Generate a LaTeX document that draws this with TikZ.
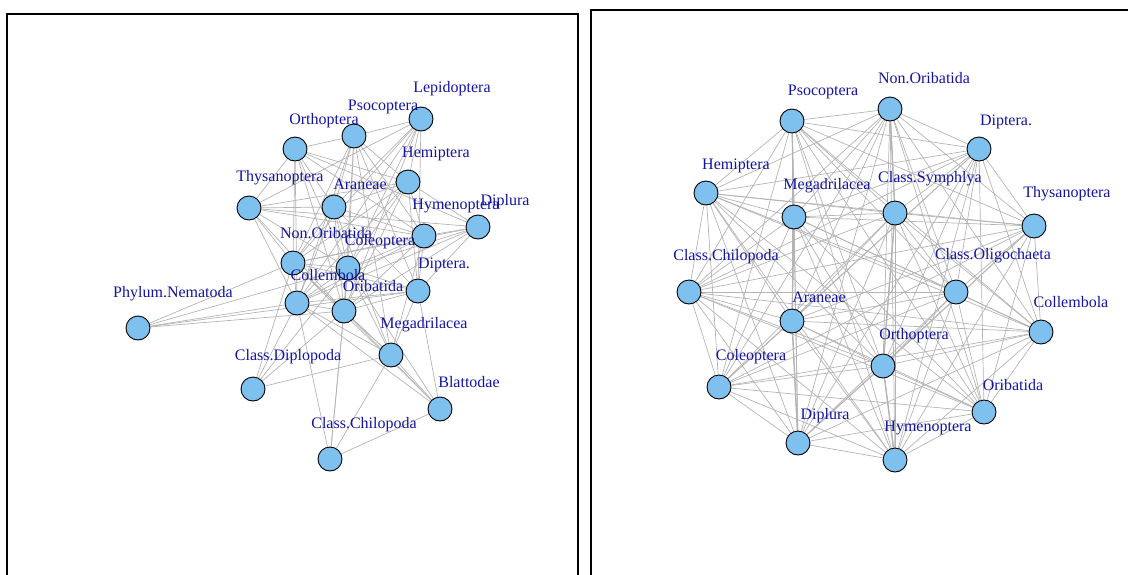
\documentclass[tikz,border=0pt]{standalone}
\usepackage{fontspec}
\setmainfont{Liberation Serif}
\usetikzlibrary{backgrounds}
\definecolor{vfill}{HTML}{7EC0EE}
\definecolor{labc}{HTML}{1414A0}
\definecolor{edgec}{HTML}{B4B4B4}
\tikzset{
  vtx/.style={circle, draw=black, line width=0.9pt, fill=vfill, minimum size=24pt, inner sep=0pt},
  lab/.style={text=labc, font=\fontsize{16}{16}\selectfont, inner sep=0pt},
  edge/.style={draw=edgec, line width=0.7pt},
  heavy/.style={draw=edgec, line width=1.4pt},
  frame/.style={draw=black, line width=1.6pt}
}
\begin{document}
\begin{tikzpicture}[x=1pt,y=-1pt]
\useasboundingbox (0,0) rectangle (1128,574);
\clip (0,0) rectangle (1128,574);

% panel frames
\draw[frame] (7,14) rectangle (578,600);
\draw[frame] (591,10) rectangle (1140,600);

% ---------- left network ----------
\node[vtx] (Llep) at (421,119) {};
\node[vtx] (Lpso) at (354,136) {};
\node[vtx] (Lort) at (295,149) {};
\node[vtx] (Lhem) at (408,182) {};
\node[vtx] (Lthy) at (249,208) {};
\node[vtx] (Lara) at (334,207) {};
\node[vtx] (Lhym) at (424,236) {};
\node[vtx] (Ldip) at (478,227) {};
\node[vtx] (Lnon) at (293,263) {};
\node[vtx] (Lcol) at (348,268) {};
\node[vtx] (Lclb) at (297,303) {};
\node[vtx] (Lori) at (344,311) {};
\node[vtx] (Ldpt) at (418,291) {};
\node[vtx] (Lnem) at (138,328) {};
\node[vtx] (Lmeg) at (391,355) {};
\node[vtx] (Ldpl) at (253,389) {};
\node[vtx] (Lbla) at (440,409) {};
\node[vtx] (Lchi) at (330,459) {};

\begin{scope}[on background layer]
\foreach \a/\b in {
  Llep/Lpso, Llep/Lara, Llep/Lnon, Llep/Lcol, Llep/Lclb, Llep/Lori, Llep/Lhem, Llep/Ldpt, Llep/Lthy,
  Lpso/Lort, Lpso/Lara, Lpso/Lnon, Lpso/Lcol, Lpso/Lclb, Lpso/Lori, Lpso/Lhym, Lpso/Ldpt, Lpso/Lhem, Lpso/Lmeg,
  Lort/Lthy, Lort/Lara, Lort/Lhem, Lort/Lnon, Lort/Lcol, Lort/Lclb, Lort/Lori, Lort/Lhym, Lort/Ldip,
  Lhem/Lthy, Lhem/Lara, Lhem/Lnon, Lhem/Lcol, Lhem/Lclb, Lhem/Lori, Lhem/Ldip, Lhem/Lhym, Lhem/Ldpt,
  Lthy/Lara, Lthy/Lhym, Lthy/Lnon, Lthy/Lclb, Lthy/Lcol, Lthy/Lori, Lthy/Ldip,
  Lara/Lhym, Lara/Lnon, Lara/Lcol, Lara/Lclb, Lara/Lori, Lara/Ldpt, Lara/Lmeg,
  Lhym/Ldip, Lhym/Lnon, Lhym/Lcol, Lhym/Lclb, Lhym/Lori, Lhym/Ldpt, Lhym/Lmeg,
  Ldip/Lcol, Ldip/Lori, Ldip/Lclb, Ldip/Ldpt, Ldip/Lnon,
  Lnon/Lcol, Lnon/Lclb, Lnon/Lori, Lnon/Ldpt, Lnon/Lmeg, Lnon/Lnem, Lnon/Ldpl, Lnon/Lbla,
  Lcol/Lclb, Lcol/Lori, Lcol/Ldpt, Lcol/Lmeg, Lcol/Lnem, Lcol/Ldpl, Lcol/Lchi, Lcol/Lbla,
  Lclb/Lori, Lclb/Ldpt, Lclb/Lmeg, Lclb/Lnem, Lclb/Ldpl, Lclb/Lchi, Lclb/Lbla,
  Lori/Ldpt, Lori/Lmeg, Lori/Lnem, Lori/Ldpl, Lori/Lchi, Lori/Lbla,
  Ldpt/Lmeg, Ldpt/Lbla, Ldpt/Lnem,
  Lmeg/Ldpl, Lmeg/Lbla, Lmeg/Lchi, Lbla/Lchi}
  \draw[edge] (\a) -- (\b);
\end{scope}

% ---------- right network ----------
\node[vtx] (Rpso) at (792,121) {};
\node[vtx] (Rnon) at (890,109) {};
\node[vtx] (Rdpt) at (979,149) {};
\node[vtx] (Rhem) at (706,193) {};
\node[vtx] (Rmeg) at (794,217) {};
\node[vtx] (Rsym) at (895,213) {};
\node[vtx] (Rthy) at (1034,226) {};
\node[vtx] (Rchi) at (689,292) {};
\node[vtx] (Roli) at (956,292) {};
\node[vtx] (Rara) at (792,321) {};
\node[vtx] (Rclb) at (1041,332) {};
\node[vtx] (Rort) at (883,366) {};
\node[vtx] (Rcol) at (719,387) {};
\node[vtx] (Rori) at (984,412) {};
\node[vtx] (Rdip) at (798,443) {};
\node[vtx] (Rhym) at (895,460) {};

\begin{scope}[on background layer]
\foreach \a [count=\i] in {Rpso,Rnon,Rdpt,Rhem,Rmeg,Rsym,Rthy,Rchi,Roli,Rara,Rclb,Rort,Rcol,Rori,Rdip,Rhym}
  \foreach \b [count=\j] in {Rpso,Rnon,Rdpt,Rhem,Rmeg,Rsym,Rthy,Rchi,Roli,Rara,Rclb,Rort,Rcol,Rori,Rdip,Rhym}
    {\ifnum\j>\i \draw[edge] (\a) -- (\b);\fi}
\foreach \a/\b in {Rpso/Rmeg, Rmeg/Rara, Rara/Rdip, Rnon/Rsym, Rsym/Rort, Rort/Rhym}
  \draw[heavy] (\a) -- (\b);
\end{scope}

% ---------- labels ----------
\node[lab] (tLlep) at (452,89)  {Lepidoptera};
\node[lab] (tLpso) at (383,107) {Psocoptera};
\node[lab] (tLort) at (324,121) {Orthoptera};
\node[lab] (tLhem) at (436,154) {Hemiptera};
\node[lab] (tLthy) at (280,178) {Thysanoptera};
\node[lab] (tLara) at (360,184) {Araneae};
\node[lab] (tLhym) at (456,206) {Hymenoptera};
\node[lab] (tLdip) at (505,202) {Diplura};
\node[lab] (tLnon) at (326,233) {Non.Oribatida};
\node[lab] (tLcol) at (380,242) {Coleoptera};
\node[lab] (tLclb) at (328,275) {Collembola};
\node[lab] (tLori) at (373,286) {Oribatida};
\node[lab] (tLdpt) at (444,265) {Diptera.};
\node[lab] (tLnem) at (173,294) {Phylum.Nematoda};
\node[lab] (tLmeg) at (424,325) {Megadrilacea};
\node[lab] (tLdpl) at (288,357) {Class.Diplopoda};
\node[lab] (tLbla) at (469,382) {Blattodae};
\node[lab] (tLchi) at (364,425) {Class.Chilopoda};

\node[lab] (tRpso) at (823,92)  {Psocoptera};
\node[lab] (tRnon) at (924,78)  {Non.Oribatida};
\node[lab] (tRdpt) at (1006,122) {Diptera.};
\node[lab] (tRhem) at (736,166) {Hemiptera};
\node[lab] (tRmeg) at (827,186) {Megadrilacea};
\node[lab] (tRsym) at (930,179) {Class.Symphlya};
\node[lab] (tRthy) at (1067,194) {Thysanoptera};
\node[lab] (tRchi) at (726,257) {Class.Chilopoda};
\node[lab] (tRoli) at (993,256) {Class.Oligochaeta};
\node[lab] (tRara) at (819,297) {Araneae};
\node[lab] (tRclb) at (1071,302) {Collembola};
\node[lab] (tRort) at (914,336) {Orthoptera};
\node[lab] (tRcol) at (751,357) {Coleoptera};
\node[lab] (tRori) at (1013,385) {Oribatida};
\node[lab] (tRdip) at (825,416) {Diplura};
\node[lab] (tRhym) at (928,428) {Hymenoptera};
\end{tikzpicture}
\end{document}
